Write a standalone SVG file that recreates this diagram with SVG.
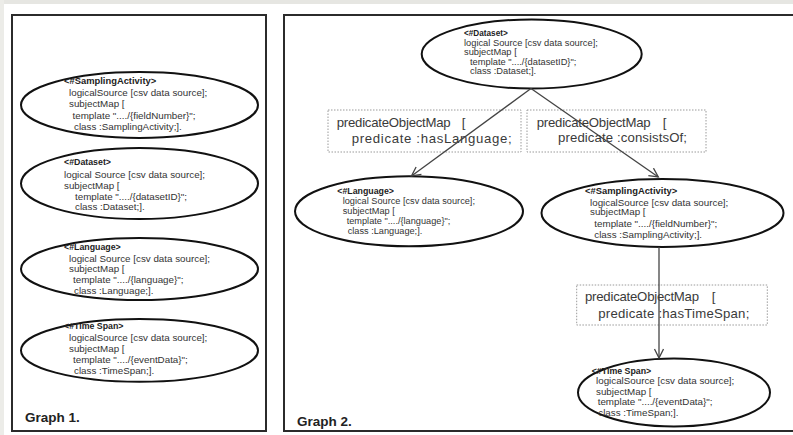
<svg xmlns="http://www.w3.org/2000/svg" width="793" height="435" viewBox="0 0 793 435">
<defs>
<style>
.panel{fill:#fff;stroke:#2b2b2b;stroke-width:2}
.node{fill:#fff;stroke:#111;stroke-width:2}
.t{font-family:"Liberation Sans",Arial,sans-serif;font-size:9.8px;fill:#333}
.h{font-family:"Liberation Sans",Arial,sans-serif;font-size:8.8px;font-weight:bold;fill:#222}
.hl{font-size:9.4px}
.s{font-size:9.3px}
.hs{font-size:8.2px}
.m{font-size:9.2px}
.pbox{fill:none;stroke:#9a9a9a;stroke-width:1;stroke-dasharray:1.5 1.5}
.pt{font-family:"Liberation Sans",Arial,sans-serif;font-size:13.2px;fill:#3a3a3a}
.lbl{font-family:"Liberation Sans",Arial,sans-serif;font-size:13.5px;font-weight:bold;fill:#222}
.edge{fill:none;stroke:#444;stroke-width:1.3}
</style>
<marker id="arr" markerUnits="userSpaceOnUse" markerWidth="12" markerHeight="12" refX="10" refY="5" orient="auto">
<path d="M1,0.5 L10,5 L1,9.5" fill="none" stroke="#444" stroke-width="1.3"/>
</marker>
</defs>
<rect x="0" y="0" width="793" height="435" fill="#fff"/>
<rect x="0" y="0" width="793" height="4" fill="#e6e6e2"/>
<rect x="0" y="0" width="4" height="435" fill="#ececE8"/>

<g id="panel1">
<rect class="panel" x="12" y="15" width="254" height="416"/>
<text class="lbl" x="25" y="421.5">Graph 1.</text>
</g>
<g id="panel2">
<rect class="panel" x="284" y="15" width="520" height="416"/>
<text class="lbl" x="297" y="426">Graph 2.</text>
</g>

<g id="g1-sampling">
<ellipse class="node" cx="139.5" cy="105" rx="118.5" ry="33"/>
<text class="h hl" x="64" y="84">&lt;#SamplingActivity&gt;</text>
<text class="t" x="69" y="95.5">logicalSource [csv data source];</text>
<text class="t" x="69" y="107">subjectMap [</text>
<text class="t" x="72.5" y="118.5">template "..../{fieldNumber}";</text>
<text class="t" x="74" y="130">class  :SamplingActivity;].</text>
</g>
<g id="g1-dataset">
<ellipse class="node" cx="139.5" cy="183.5" rx="118.5" ry="35.5"/>
<text class="h" x="64" y="165">&lt;#Dataset&gt;</text>
<text class="t" x="64" y="177.5">logical Source [csv data source];</text>
<text class="t" x="64" y="188.5">subjectMap [</text>
<text class="t" x="75" y="199.5">template "..../{datasetID}";</text>
<text class="t" x="75" y="210">class  :Dataset;].</text>
</g>
<g id="g1-language">
<ellipse class="node" cx="139.5" cy="269" rx="118.5" ry="31"/>
<text class="h" x="64" y="249.5">&lt;#Language&gt;</text>
<text class="t" x="69" y="261.5">logical Source [csv data source];</text>
<text class="t" x="69" y="272">subjectMap [</text>
<text class="t" x="73" y="282.5">template "..../{language}";</text>
<text class="t" x="74" y="293.5">class  :Language;].</text>
</g>
<g id="g1-timespan">
<ellipse class="node" cx="139.5" cy="350.4" rx="118.5" ry="31.4"/>
<text class="h" x="64" y="328.5">&lt;#Time Span&gt;</text>
<text class="t" x="69" y="341">logicalSource [csv data source];</text>
<text class="t" x="69" y="351.5">subjectMap [</text>
<text class="t" x="73" y="362.5">template "..../{eventData}";</text>
<text class="t" x="74" y="373.5">class  :TimeSpan;].</text>
</g>

<g id="g2-dataset">
<ellipse class="node" cx="531.7" cy="54" rx="110" ry="34.5"/>
<text class="h hs" x="464" y="35.5">&lt;#Dataset&gt;</text>
<text class="t s" x="464" y="45.5">logical Source [csv data source];</text>
<text class="t s" x="464" y="55">subjectMap [</text>
<text class="t s" x="470" y="64.5">template "..../{datasetID}";</text>
<text class="t s" x="470" y="74">class  :Dataset;].</text>
</g>
<g id="g2-language">
<ellipse class="node" cx="409" cy="211.3" rx="114" ry="35"/>
<text class="h" x="337.3" y="194">&lt;#Language&gt;</text>
<text class="t m" x="342.7" y="204">logical Source [csv data source];</text>
<text class="t m" x="342.7" y="214">subjectMap [</text>
<text class="t m" x="346.7" y="224">template "..../{language}";</text>
<text class="t m" x="347.7" y="234">class  :Language;].</text>
</g>
<g id="g2-sampling">
<ellipse class="node" cx="662.5" cy="213" rx="121" ry="34"/>
<text class="h hl" x="585" y="194">&lt;#SamplingActivity&gt;</text>
<text class="t" x="590" y="205.5">logicalSource [csv data source];</text>
<text class="t" x="590" y="215">subjectMap [</text>
<text class="t" x="594.3" y="226.5">template "..../{fieldNumber}";</text>
<text class="t" x="594.3" y="238">class  :SamplingActivity;].</text>
</g>
<g id="g2-timespan">
<ellipse class="node" cx="674" cy="392.5" rx="96" ry="34"/>
<text class="h" x="591.7" y="374">&lt;#Time Span&gt;</text>
<text class="t" x="596" y="384">logicalSource [csv data source];</text>
<text class="t" x="596" y="394.5">subjectMap [</text>
<text class="t" x="597.7" y="405">template "..../{eventData}";</text>
<text class="t" x="598.3" y="416">class  :TimeSpan;].</text>
</g>

<g id="pom-hasLanguage">
<rect class="pbox" x="328" y="110" width="193" height="42"/>
<text class="pt" y="127"><tspan x="336.7" textLength="114">predicateObjectMap</tspan> <tspan x="461.7">[</tspan></text>
<text class="pt" x="351.7" y="143" textLength="160">predicate :hasLanguage;</text>
</g>
<g id="pom-consistsOf">
<rect class="pbox" x="527" y="110" width="179" height="42"/>
<text class="pt" y="127"><tspan x="536.7" textLength="114">predicateObjectMap</tspan> <tspan x="662.7">[</tspan></text>
<text class="pt" x="558" y="142" textLength="129">predicate :consistsOf;</text>
</g>
<g id="pom-hasTimeSpan">
<rect class="pbox" x="576.7" y="285" width="190.6" height="40"/>
<text class="pt" y="301"><tspan x="585" textLength="114">predicateObjectMap</tspan> <tspan x="711.7">[</tspan></text>
<text class="pt" x="598.3" y="318" textLength="151">predicate :hasTimeSpan;</text>
</g>

<g id="connectors">
<line class="edge" x1="531" y1="88.5" x2="411.5" y2="176" marker-end="url(#arr)"/>
<line class="edge" x1="531" y1="88.5" x2="658.3" y2="177" marker-end="url(#arr)"/>
<line class="edge" x1="659" y1="247" x2="659" y2="358" marker-end="url(#arr)"/>
</g>
</svg>
